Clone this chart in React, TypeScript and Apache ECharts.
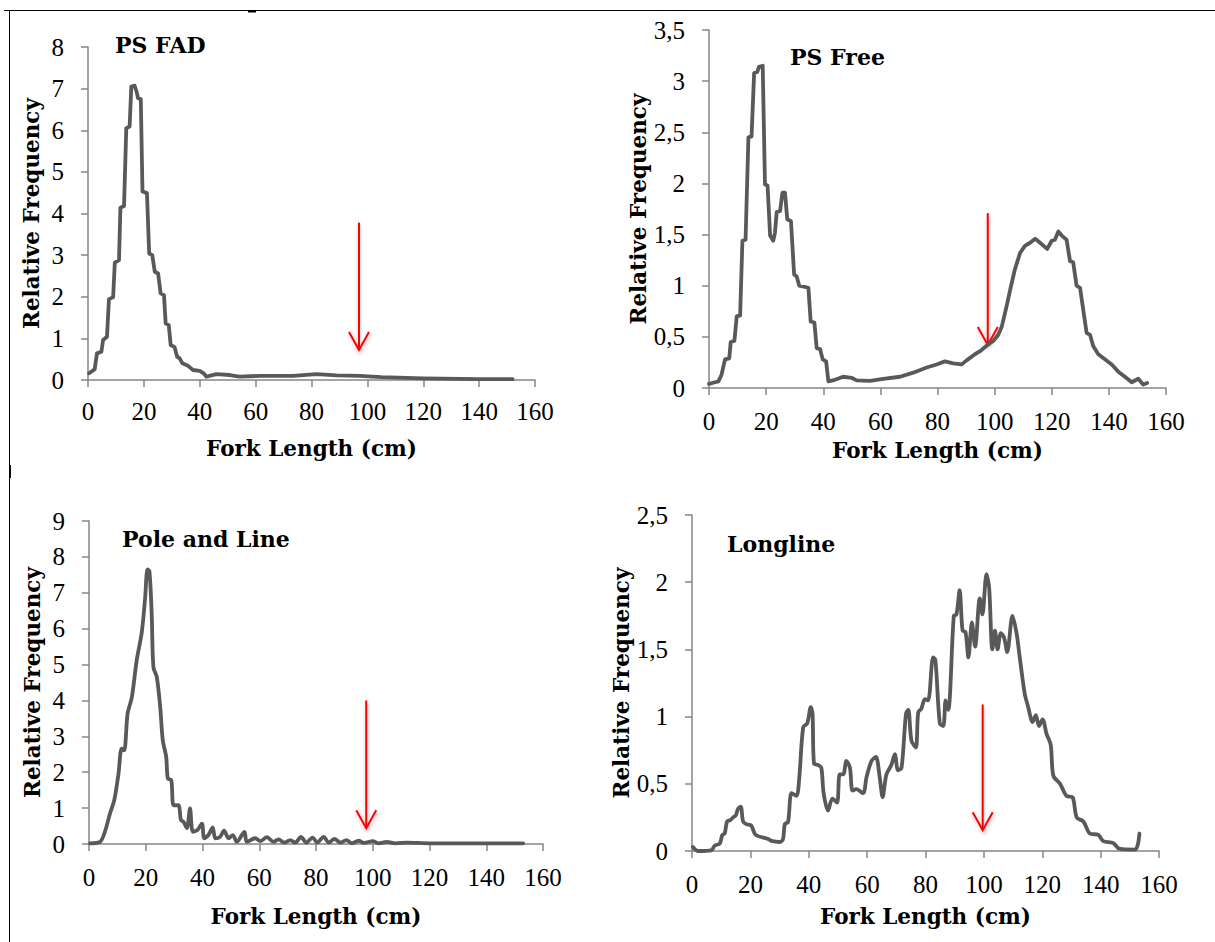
import React, { useEffect, useRef } from "react";
import * as echarts from "echarts";

const panelTitles = ["PS FAD", "PS Free", "Pole and Line", "Longline"];
const xTickMax = 160;
const yMaxes = [8, 3.5, 9, 2.5];
const yIntervals = [1, 0.5, 1, 0.5];

const fadLength = [0.4, 2.4, 3.2, 4.8, 5.4, 6.8, 7.5, 9, 9.6, 11.1, 11.6, 12.9, 13.7, 14.9, 15.5, 16.7, 17.5, 17.9, 18.9, 19.5, 21.1, 21.9, 23, 23.9, 25.1, 26, 27.2, 27.8, 28.9, 29.6, 31, 31.9, 32.8, 33.8, 35.8, 37.6, 40, 41.4, 42.4, 46, 50.7, 54.3, 61.5, 73.4, 81.8, 89, 97.3, 105, 120, 140, 152];
const fadFreq = [0.16, 0.26, 0.64, 0.68, 0.96, 1.04, 1.94, 1.99, 2.82, 2.88, 4.14, 4.18, 6.05, 6.09, 7.05, 7.07, 6.9, 6.77, 6.75, 4.53, 4.49, 3.04, 3.0, 2.6, 2.56, 2.08, 2.04, 1.36, 1.32, 0.84, 0.79, 0.56, 0.52, 0.4, 0.34, 0.24, 0.22, 0.16, 0.08, 0.14, 0.12, 0.08, 0.1, 0.1, 0.14, 0.11, 0.1, 0.07, 0.04, 0.02, 0.02];

const freeLength = [0, 2.1, 3.3, 4.4, 5.6, 7.1, 7.6, 8.9, 9.7, 10.9, 11.7, 12.8, 13.8, 14.9, 15.8, 16.9, 17.5, 18.8, 19.6, 20.5, 21.4, 22.5, 23.1, 23.7, 24.9, 25.7, 26.6, 27.4, 28.7, 29.8, 30.7, 31.6, 34.8, 35.6, 36.9, 37.7, 38.9, 39.8, 41, 41.8, 44.1, 47, 49.9, 51.7, 56.4, 61, 66.9, 71.5, 76.2, 79.7, 82.6, 85.5, 88.4, 90.2, 93.1, 94.9, 97.5, 99.5, 101.3, 102.5, 104.2, 105.6, 107.1, 108.9, 110.6, 112.4, 114.2, 115.9, 118.4, 120, 121.1, 122.3, 123.5, 125.2, 126.4, 127.5, 128.7, 129.9, 131, 132.2, 133.4, 134.5, 136.3, 138.6, 141, 143.3, 145.6, 148, 150.3, 152, 153.4];
const freeFreq = [0.04, 0.056, 0.065, 0.13, 0.28, 0.29, 0.45, 0.46, 0.7, 0.71, 1.44, 1.45, 2.45, 2.46, 3.08, 3.09, 3.14, 3.15, 1.99, 1.98, 1.49, 1.44, 1.52, 1.72, 1.73, 1.91, 1.91, 1.65, 1.63, 1.11, 1.09, 1.0, 0.98, 0.65, 0.64, 0.39, 0.38, 0.28, 0.26, 0.065, 0.08, 0.11, 0.1, 0.075, 0.07, 0.09, 0.11, 0.15, 0.2, 0.23, 0.26, 0.24, 0.23, 0.27, 0.33, 0.36, 0.42, 0.46, 0.52, 0.6, 0.8, 0.98, 1.16, 1.32, 1.39, 1.42, 1.46, 1.42, 1.36, 1.44, 1.45, 1.53, 1.49, 1.45, 1.24, 1.23, 1.0, 0.98, 0.77, 0.54, 0.52, 0.41, 0.33, 0.28, 0.23, 0.16, 0.11, 0.056, 0.09, 0.033, 0.05];

const poleLength = [0.35, 3.9, 5.6, 7.4, 8.9, 10.4, 11.5, 12.4, 13.6, 15.1, 16.8, 18.6, 19.8, 20.6, 21.3, 22.1, 22.7, 23.9, 25.1, 26, 27.2, 27.8, 29, 29.8, 31.5, 32.4, 33.3, 34.5, 35.6, 36.6, 38.2, 39.8, 40.6, 42.1, 43.6, 44.5, 46.2, 47.6, 49.2, 50.7, 52.1, 54.8, 55.6, 58.6, 60.4, 62.7, 65, 66.8, 68.8, 70.9, 72.7, 74.7, 76.6, 78.8, 80.4, 82.7, 84.5, 86.5, 88.6, 90.7, 92.7, 95, 97, 100, 102, 105, 108, 112, 120, 130, 140, 153];
const poleFreq = [0.02, 0.06, 0.34, 0.85, 1.22, 1.96, 2.66, 2.61, 3.63, 4.09, 5.11, 5.9, 6.87, 7.65, 7.6, 6.4, 4.93, 4.65, 3.81, 2.89, 2.43, 1.82, 1.78, 1.08, 1.08, 0.67, 0.62, 0.44, 0.99, 0.34, 0.39, 0.57, 0.16, 0.25, 0.46, 0.16, 0.2, 0.37, 0.16, 0.25, 0.06, 0.34, 0.06, 0.16, 0.08, 0.19, 0.06, 0.13, 0.04, 0.11, 0.04, 0.2, 0.04, 0.18, 0.04, 0.2, 0.04, 0.14, 0.04, 0.11, 0.02, 0.09, 0.03, 0.08, 0.02, 0.06, 0.02, 0.04, 0.02, 0.02, 0.02, 0.02];

const longLength = [0.3, 2.1, 6.6, 7.8, 9.5, 10.4, 11.2, 12, 13.1, 14.1, 15, 15.8, 16.7, 17.5, 18.6, 20.3, 21.8, 26.1, 27.2, 30.1, 31.2, 31.8, 32.9, 34.1, 35.8, 36.7, 38.1, 39.5, 40.7, 41.3, 41.8, 43.2, 44.3, 45.1, 46.6, 48.1, 49.7, 50.6, 51.8, 52.9, 54.1, 55, 56.3, 58.6, 59.8, 61.5, 63, 64.3, 65.3, 66.6, 68.3, 69.5, 70.6, 71.8, 73.3, 74.1, 75.2, 76.7, 77.5, 78.6, 79.8, 80.9, 82.6, 83.4, 84.9, 86.1, 86.9, 87.8, 89.7, 90.6, 91.7, 92.7, 93.7, 94.7, 95.9, 97, 98.6, 99.5, 100.9, 101.8, 102.9, 103.8, 104.7, 105.8, 106.9, 108, 109.8, 111.2, 112.3, 114, 115.2, 116.7, 117.8, 118.9, 120.1, 121.5, 122.9, 123.8, 126.1, 128.3, 130.4, 131.8, 134.1, 136.3, 139.2, 140.9, 144.3, 146.4, 151.8, 153.3];
const longFreq = [0.03, 0.0, 0.005, 0.04, 0.055, 0.12, 0.13, 0.22, 0.23, 0.25, 0.265, 0.315, 0.33, 0.22, 0.2, 0.19, 0.12, 0.09, 0.075, 0.067, 0.09, 0.2, 0.215, 0.43, 0.41, 0.53, 0.92, 0.95, 1.07, 1.02, 0.65, 0.64, 0.62, 0.43, 0.3, 0.39, 0.36, 0.57, 0.57, 0.67, 0.62, 0.45, 0.46, 0.43, 0.55, 0.67, 0.7, 0.55, 0.4, 0.57, 0.64, 0.72, 0.6, 0.62, 1.02, 1.05, 0.82, 0.77, 1.03, 1.06, 1.13, 1.12, 1.44, 1.42, 0.95, 0.93, 1.12, 1.05, 1.75, 1.76, 1.94, 1.64, 1.63, 1.44, 1.7, 1.52, 1.88, 1.76, 2.06, 1.96, 1.5, 1.64, 1.5, 1.62, 1.59, 1.48, 1.75, 1.62, 1.44, 1.17, 1.07, 0.96, 1.01, 0.93, 0.98, 0.87, 0.79, 0.56, 0.5, 0.41, 0.4, 0.25, 0.22, 0.13, 0.12, 0.074, 0.06, 0.017, 0.01, 0.13];

// red arrows (data coordinates in each panel)
const arrowX = [97, 97.6, 97.7, 99.6];
const arrowTop = [3.78, 1.71, 4.0, 1.09];
const arrowTip = [0.72, 0.42, 0.44, 0.154];

const BOLD_FONT = "DejaVu Serif";
const TICK_FONT = "Liberation Serif";

const grids = [
  { left: 88, top: 47, width: 447, height: 333 },
  { left: 709, top: 30, width: 457, height: 358 },
  { left: 89, top: 521, width: 454, height: 323 },
  { left: 692, top: 515, width: 467, height: 336 },
];
const xNameGaps = [57, 51, 61, 54];
const yNameGaps = [46, 58, 46, 53];
const xLabelMargins = [19, 21, 21, 21];
const titlePos = [
  { left: 115, top: 34 },
  { left: 790, top: 46 },
  { left: 122, top: 528 },
  { left: 727, top: 533 },
];

const axisGrey = "#868686";

export default function App() {
  const ref = useRef<HTMLDivElement>(null);
  useEffect(() => {
    if (!ref.current) return;
    const chart = echarts.init(ref.current, null, { renderer: "svg" });
    const lengths = [fadLength, freeLength, poleLength, longLength];
    const freqs = [fadFreq, freeFreq, poleFreq, longFreq];
    const smooths = [false, false, 0.3, 0.3];
    const nameStyle = { fontFamily: BOLD_FONT, fontWeight: "bold", fontSize: 21.5, color: "#000" };

    const option: any = {
      animation: false,
      backgroundColor: "#ffffff",
      title: panelTitles.map((t, i) => ({
        text: t,
        left: titlePos[i].left,
        top: titlePos[i].top,
        padding: 0,
        textStyle: { fontFamily: BOLD_FONT, fontWeight: "bold", fontSize: 22, color: "#000" },
      })),
      grid: grids.map((g) => ({ ...g })),
      xAxis: grids.map((_, i) => ({
        type: "value",
        gridIndex: i,
        min: 0,
        max: xTickMax,
        interval: 20,
        name: "Fork Length (cm)",
        nameLocation: "middle",
        nameGap: xNameGaps[i],
        nameTextStyle: nameStyle,
        axisLine: { show: true, lineStyle: { color: axisGrey, width: 1.5 } },
        axisTick: { show: true, length: 7, lineStyle: { color: axisGrey, width: 1.5 } },
        splitLine: { show: false },
        axisLabel: { fontFamily: TICK_FONT, fontSize: 25, color: "#000", margin: xLabelMargins[i] },
      })),
      yAxis: grids.map((_, i) => ({
        type: "value",
        gridIndex: i,
        min: 0,
        max: yMaxes[i],
        interval: yIntervals[i],
        name: "Relative Frequency",
        nameLocation: "middle",
        nameGap: yNameGaps[i],
        nameTextStyle: nameStyle,
        axisLine: { show: true, lineStyle: { color: axisGrey, width: 1.5 } },
        axisTick: { show: true, length: 7, lineStyle: { color: axisGrey, width: 1.5 } },
        splitLine: { show: false },
        axisLabel: {
          fontFamily: TICK_FONT,
          fontSize: 25,
          color: "#000",
          margin: 24,
          formatter: (v: number) => String(v).replace(".", ","),
        },
      })),
      series: lengths.map((xs, i) => ({
        type: "line",
        xAxisIndex: i,
        yAxisIndex: i,
        showSymbol: false,
        symbol: "none",
        smooth: smooths[i],
        lineStyle: { color: "#595959", width: 3.8, join: "round", cap: "round" },
        data: xs.map((x, k) => [x, freqs[i][k]]),
      })),
    };
    chart.setOption(option);

    const graphics: any[] = [
      { type: "line", shape: { x1: 4, y1: 10.5, x2: 1215, y2: 10.5 }, style: { stroke: "#000", lineWidth: 1 } },
      { type: "line", shape: { x1: 9.5, y1: 10, x2: 9.5, y2: 942 }, style: { stroke: "#000", lineWidth: 1 } },
      { type: "line", shape: { x1: 248, y1: 11.5, x2: 256, y2: 11.5 }, style: { stroke: "#000", lineWidth: 2 } },
      { type: "line", shape: { x1: 10, y1: 465, x2: 10, y2: 478 }, style: { stroke: "#000", lineWidth: 2 } },
    ];
    const shadow = { shadowBlur: 4, shadowColor: "rgba(0,0,0,0.3)", shadowOffsetX: 1, shadowOffsetY: 2 };
    for (let i = 0; i < 4; i++) {
      const top = chart.convertToPixel({ gridIndex: i } as any, [arrowX[i], arrowTop[i]]) as number[];
      const tip = chart.convertToPixel({ gridIndex: i } as any, [arrowX[i], arrowTip[i]]) as number[];
      graphics.push({
        type: "rect",
        shape: { x: top[0] - 1, y: top[1], width: 2, height: tip[1] - top[1] - 1 },
        style: { fill: "#ff0000", ...shadow },
      });
      graphics.push({
        type: "polyline",
        shape: { points: [[tip[0] - 10, tip[1] - 18], [tip[0], tip[1]], [tip[0] + 10, tip[1] - 18]] },
        style: { stroke: "#ff0000", lineWidth: 2, fill: "none", ...shadow },
      });
    }
    chart.setOption({ graphic: graphics });

    return () => chart.dispose();
  }, []);
  return (
    <div
      ref={ref}
      style={{ position: "absolute", left: 0, top: 0, width: 1215, height: 942, background: "#fff" }}
    />
  );
}
